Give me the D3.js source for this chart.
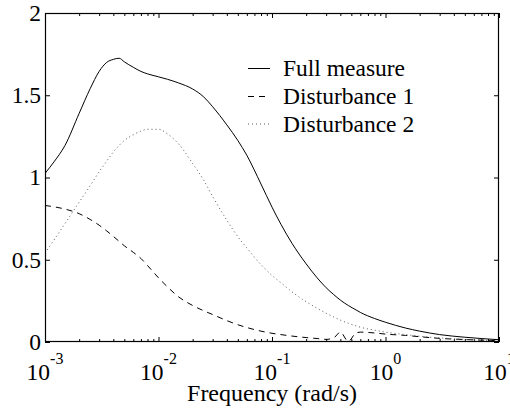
<!DOCTYPE html>
<html><head><meta charset="utf-8"><script src="https://cdn.jsdelivr.net/npm/d3@7"></script>
<style>
svg text, svg tspan { font-family: "Liberation Serif", "Tinos", "Times New Roman" !important; }
</style>
</head>
<body style="margin:0">
<svg id="chart" width="510" height="410"></svg>
<script>
// ---- data ----
const freq = [0.001,0.0012,0.0015,0.002,0.0025,0.003,0.0035,0.004,0.0045,0.005,0.006,0.007,0.008,0.01,0.012,0.015,0.02,0.025,0.03,0.04,0.05,0.06,0.08,0.1,0.12,0.15,0.2,0.25,0.3,0.35,0.4,0.47,0.55,0.6,0.8,1,1.5,2,3,5,10];
const fullMeasure = [1.025,1.095,1.195,1.39,1.54,1.645,1.70,1.718,1.725,1.703,1.67,1.645,1.63,1.612,1.597,1.575,1.538,1.49,1.43,1.32,1.225,1.135,0.96,0.82,0.715,0.60,0.475,0.39,0.33,0.288,0.255,0.222,0.195,0.18,0.143,0.12,0.085,0.066,0.045,0.029,0.014];
const disturbance1 = [0.83,0.822,0.808,0.78,0.745,0.71,0.675,0.642,0.612,0.585,0.545,0.508,0.465,0.39,0.335,0.275,0.222,0.19,0.167,0.13,0.105,0.088,0.066,0.053,0.045,0.036,0.027,0.021,0.016,0.025,0.06,0.004,0.055,0.06,0.055,0.048,0.04,0.032,0.022,0.015,0.008];
const disturbance2 = [0.54,0.62,0.72,0.85,0.95,1.035,1.10,1.155,1.195,1.225,1.26,1.282,1.293,1.293,1.265,1.205,1.085,0.984,0.885,0.74,0.64,0.572,0.47,0.405,0.36,0.305,0.245,0.205,0.175,0.152,0.133,0.114,0.098,0.09,0.072,0.06,0.045,0.035,0.025,0.016,0.008];
const seriesNames = ["Full measure","Disturbance 1","Disturbance 2"];
const yTicks = [0,0.5,1,1.5,2];
const yTickLabels = ["0","0.5","1","1.5","2"];
const xMajor = [0.001,0.01,0.1,1,10];
const xExponents = ["-3","-2","-1","0","1"];
const xLabel = "Frequency (rad/s)";

// ---- layout ----
const serifFont = '"Liberation Serif", "Tinos", "Times New Roman"';
const FS = 23.5;
const L=45, R=499, T=13, B=342;
const svg = d3.select("#chart");
const x = d3.scaleLog().domain([1e-3,10]).range([L,R]);
const y = d3.scaleLinear().domain([0,2]).range([B,T]);

const xMinor = [];
for (let e=-3; e<1; e++) for (let k=2; k<=9; k++) xMinor.push(k*Math.pow(10,e));

function styleAxis(g){
  g.attr("font-family",null).attr("font-size",null);
  g.select(".domain").remove();
  g.selectAll("line").attr("stroke","#000").attr("stroke-width",1);
}

svg.append("g").attr("transform",`translate(0,${B})`).call(d3.axisBottom(x).tickValues(xMinor).tickSize(-3).tickFormat("")).call(styleAxis);
svg.append("g").attr("transform",`translate(0,${B})`).call(d3.axisBottom(x).tickValues(xMajor).tickSize(-5).tickFormat("")).call(styleAxis);
svg.append("g").attr("transform",`translate(0,${T})`).call(d3.axisTop(x).tickValues(xMinor).tickSize(-3).tickFormat("")).call(styleAxis);
svg.append("g").attr("transform",`translate(0,${T})`).call(d3.axisTop(x).tickValues(xMajor).tickSize(-5).tickFormat("")).call(styleAxis);
svg.append("g").attr("transform",`translate(${L},0)`).call(d3.axisLeft(y).tickValues(yTicks).tickSize(-5).tickFormat("")).call(styleAxis);
svg.append("g").attr("transform",`translate(${R},0)`).call(d3.axisRight(y).tickValues(yTicks).tickSize(-5).tickFormat("")).call(styleAxis);
// remove empty tick texts created by the axes
svg.selectAll(".tick text").remove();

svg.selectAll("text.ylab").data(yTicks).join("text").attr("class","ylab")
  .style("font-family",serifFont,"important").attr("font-size",FS)
  .attr("x", L-4).attr("y", d=>y(d)).attr("dy","0.34em")
  .attr("text-anchor","end")
  .text((d,i)=>yTickLabels[i]);

const xl = svg.selectAll("text.xlab").data(xMajor).join("text").attr("class","xlab")
  .style("font-family",serifFont,"important").attr("font-size",FS)
  .attr("x", d=>x(d)).attr("y", 380).attr("text-anchor","middle");
xl.append("tspan").text("10");
xl.append("tspan").attr("font-size",16).attr("dy",-16).text((d,i)=>xExponents[i]);

svg.append("text").style("font-family",serifFont,"important").attr("font-size",24)
  .attr("x",272).attr("y",401).attr("text-anchor","middle").text(xLabel);

svg.append("clipPath").attr("id","clip").append("rect").attr("x",L).attr("y",T).attr("width",R-L).attr("height",B-T);

const styles = [
  {dash:null, color:"#000", w:1},
  {dash:"6,5", color:"#000", w:1},
  {dash:"1,3", color:"#555", w:1}
];
const allSeries = [fullMeasure, disturbance1, disturbance2];
const line = d3.line().x(d=>x(d[0])).y(d=>y(d[1])).curve(d3.curveMonotoneX);
const plot = svg.append("g").attr("clip-path","url(#clip)");
allSeries.forEach((vals,i)=>{
  plot.append("path").datum(freq.map((f,j)=>[f,vals[j]]))
    .attr("d",line).attr("fill","none")
    .attr("stroke",styles[i].color).attr("stroke-width",styles[i].w)
    .attr("stroke-dasharray",styles[i].dash);
});

svg.append("rect").attr("x",L+0.5).attr("y",T+0.5).attr("width",R-L-1).attr("height",B-T-1)
  .attr("fill","none").attr("stroke","#000").attr("stroke-width",1.2);

const legY = [68.5,96.5,124];
seriesNames.forEach((name,i)=>{
  svg.append("line").attr("x1",248).attr("x2",270).attr("y1",legY[i]).attr("y2",legY[i])
    .attr("stroke",styles[i].color).attr("stroke-width",styles[i].w).attr("stroke-dasharray",styles[i].dash);
  svg.append("text").style("font-family",serifFont,"important").attr("font-size",FS)
    .attr("x",283).attr("y",legY[i]).attr("dy","0.34em").text(name);
});
</script></body></html>
